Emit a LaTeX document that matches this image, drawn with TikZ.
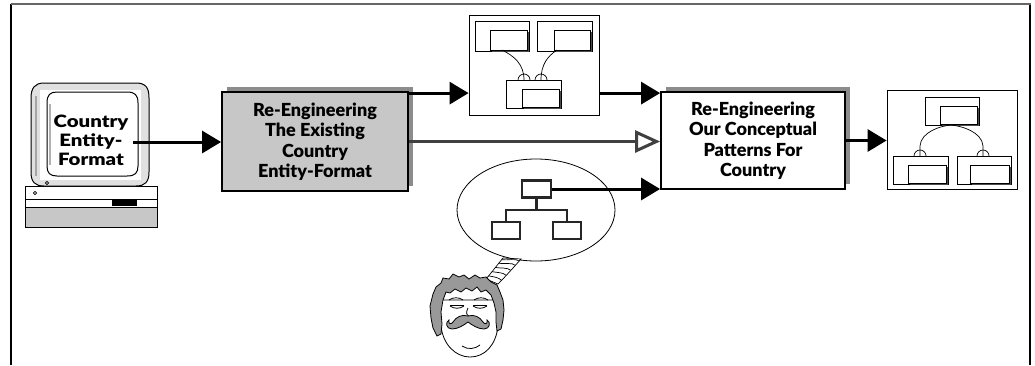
\documentclass[tikz,border=0pt]{standalone}
\usepackage{fontspec}
\setmainfont{Lato}[BoldFont={Lato Black}]
\usetikzlibrary{arrows.meta,calc,shapes.geometric}

\tikzset{
  procbox/.style={draw=black, line width=1.8pt, align=center, inner sep=0pt,
    font=\bfseries\fontsize{18}{20.5}\selectfont},
  schema/.style={draw=black, line width=0.8pt, fill=white, inner sep=0pt},
  entouter/.style={draw=black, line width=0.8pt, fill=white, inner sep=0pt},
  entinner/.style={draw=black, line width=0.8pt, fill=white, inner sep=0pt},
  treebox/.style={draw=black!85, line width=2.2pt, fill=white, inner sep=0pt,
    minimum width=28pt, minimum height=17pt},
  arr/.style={line width=3pt, -{Triangle[length=19pt, width=22pt]}},
  openarr/.style={draw=black!75, line width=3pt,
    -{Triangle[open, length=25pt, width=22pt, line width=3pt]}},
  link/.style={line width=0.7pt},
}

% entity: outer box with a raised inner box in its lower right
\newcommand\entity[6]{% name, x1, y1, x2, y2 (outer), inner width
  \node[entouter, minimum width=#4-#2, minimum height=#5-#3] (#1) at ({(#2+#4)/2},{(#3+#5)/2}) {};
  \fill[black!70] ({#4-2-#6+2},{#3+9+2}) rectangle ({#4-2+2},{#5-1+1.5});
  \node[entinner, minimum width=#6, minimum height=#5-#3-10] (#1i) at ({#4-2-#6/2},{(#3+9+#5-1)/2}) {};
}

\begin{document}
\begin{tikzpicture}[x=1pt, y=-1pt]
\useasboundingbox (0,0) rectangle (1035,365);
\fill[white] (0,0) rectangle (1035,365);

% open frame
\draw[black, line width=1.5pt] (11,365) -- (11,4);
\draw[black, line width=1.5pt] (1030,4) -- (1030,365);
\draw[black!60, line width=2pt] (10.5,4) -- (1030.5,4);

% ---------- computer ----------
% base
\draw[line width=0.9pt, fill=black!22] (25,186) rectangle (157,227);
\draw[line width=0.9pt, fill=white] (25,186) rectangle (157,199);
\draw[line width=0.9pt, fill=white] (25,199) rectangle (157,207);
\fill[black] (112,200) rectangle (137,206);
\draw[line width=0.6pt] (35,193) circle (1.6);
% bezel
\draw[line width=1pt, fill=black!12]
  (44,83) -- (136,83) .. controls (146,83) and (149,88) .. (149,98)
  -- (149,172) .. controls (149,182) and (145,186) .. (136,186)
  -- (44,186) .. controls (35,186) and (31,182) .. (31,172)
  -- (31,98) .. controls (31,88) and (35,83) .. (44,83) -- cycle;
\fill[white] (40,90) rectangle (141,180);
\draw[black!35, line width=1.5pt] (36,96) -- (36,176);
% screen
\draw[line width=1pt, fill=white]
  (57,92) -- (127,92) .. controls (135,92) and (138,95) .. (138,103)
  -- (138,166) .. controls (138,173) and (135,176) .. (127,176)
  -- (57,176) .. controls (50,176) and (47,173) .. (47,166)
  -- (47,103) .. controls (47,95) and (50,92) .. (57,92) -- cycle;
\draw[black!30, line width=1.2pt] (50,104) -- (50,165);
\draw[line width=0.6pt] (47,183) circle (1.6);
\node[align=center, inner sep=0pt, xscale=1.2,
  font=\bfseries\fontsize{17}{19}\selectfont] (screentext) at (91,140)
  {Country\\Entity-\\Format};
\coordinate (screenout) at (133,142);

% ---------- process boxes ----------
\fill[black!45] (227,87) rectangle (413,186);
\node[procbox, fill=black!22, minimum width=186pt, minimum height=99pt]
  (reexist) at (315,141.5) {Re-Engineering\\The Existing\\Country\\Entity-Format};

\fill[black!45] (666,87) rectangle (850,184);
\node[procbox, fill=white, minimum width=184pt, minimum height=97pt]
  (reconc) at (753,140.5) {Re-Engineering\\Our Conceptual\\Patterns For\\Country};

% ---------- existing schema ----------
\node[schema, minimum width=130pt, minimum height=100pt] (schemaA) at (534,65) {};
\entity{ea}{475}{21}{529}{51}{37}
\entity{eb}{537}{21}{592}{51}{36}
\entity{ec}{506}{80}{561}{108}{37}
\draw[link] (502,50) .. controls (514,56) and (524,64) .. (524,80);
\draw[link] (557,50) .. controls (548,56) and (541,64) .. (541,80);
\draw[link] (518,80) arc[start angle=180, end angle=360, radius=6];
\draw[link] (535,80) arc[start angle=180, end angle=360, radius=6];

% ---------- conceptual pattern schema ----------
\node[schema, minimum width=130pt, minimum height=99pt] (schemaB) at (952,139.5) {};
\entity{pa}{925}{97}{979}{125}{37}
\entity{pb}{893}{156}{948}{184}{38}
\entity{pc}{957}{156}{1011}{184}{39}
\draw[link] (920,156) -- (920,146) .. controls (921,132) and (940,126) .. (951,125)
  .. controls (962,126) and (982,132) .. (983,146) -- (983,156);
\draw[link] (914,156) arc[start angle=180, end angle=360, radius=6];
\draw[link] (977,156) arc[start angle=180, end angle=360, radius=6];

% ---------- thought bubble ----------
\node[draw, line width=0.8pt, ellipse, minimum width=158pt, minimum height=102pt,
  inner sep=0pt] (bubble) at (536,210) {};
\node[treebox, minimum width=29pt] (root) at (536.5,189) {};
\node[treebox] (leafl) at (506,230.5) {};
\node[treebox] (leafr) at (567,230.5) {};
\draw[black!85, line width=2.2pt] (root.south) -- ++(0,11) coordinate (fork);
\draw[black!85, line width=2.2pt] (leafl.north) |- (fork) -| (leafr.north);

% bubble tail
\draw[line width=0.7pt, fill=white]
  (486,279) .. controls (492,272) and (498,264) .. (503,258)
  -- (521,259) .. controls (513,268) and (505,277) .. (498,284) -- cycle;
\foreach \t in {0.15,0.35,0.55,0.75,0.92}{
  \draw[line width=0.7pt] ($(486,279)!\t!(503,258)$) .. controls +(5,1) and +(-3,-3) ..
    ($(498,284)!\t!(521,259)$);
}

% ---------- thinker ----------
\draw[line width=0.8pt, fill=white]
  (440,300) -- (441,326) .. controls (443,345) and (456,357) .. (470,357)
  .. controls (485,357) and (496,345) .. (498,326) -- (497,300) -- cycle;
\draw[line width=0.8pt, fill=black!40]
  (437,336) -- (433,328) -- (431,318) -- (430,306) -- (433,294) -- (436,287)
  -- (441,283) -- (443,278) -- (449,279) -- (453,274) -- (459,277) -- (464,275)
  -- (469,279) -- (475,275) -- (480,278) -- (486,277) -- (491,282) -- (497,285)
  -- (500,292) -- (503,300) -- (504,310) -- (503,320) -- (501,329) -- (497,331)
  -- (496,322) -- (496,312) -- (494,303) -- (491,295) -- (486,290) -- (481,292)
  -- (477,287) -- (472,291) -- (466,288) -- (461,292) -- (455,289) -- (450,293)
  -- (446,292) -- (443,300) -- (441,312) -- (442,324) -- (441,334) -- cycle;
% eyebrows and closed eyes
\draw[line width=0.8pt] (449,300) .. controls (453,297) and (459,297) .. (463,300);
\draw[line width=0.8pt] (474,300) .. controls (478,297) and (484,297) .. (488,300);
\draw[line width=0.8pt] (450,306) .. controls (454,309) and (460,309) .. (464,306);
\draw[line width=0.8pt] (450,305) -- (464,305);
\draw[line width=0.8pt] (473,306) .. controls (477,309) and (483,309) .. (487,306);
\draw[line width=0.8pt] (473,305) -- (487,305);
% nose
\draw[line width=0.8pt] (468,308) .. controls (466,312) and (466,315) .. (469,316);
% moustache
\draw[line width=0.8pt, fill=black!40]
  (468,316) .. controls (462,314) and (456,317) .. (453,322)
  .. controls (451,325) and (448,324) .. (449,320)
  .. controls (445,322) and (446,329) .. (452,329)
  .. controls (458,329) and (464,325) .. (468,322)
  .. controls (472,325) and (478,329) .. (484,329)
  .. controls (490,329) and (491,322) .. (487,320)
  .. controls (488,324) and (485,325) .. (483,322)
  .. controls (480,317) and (474,314) .. (468,316) -- cycle;
% smile
\draw[line width=0.8pt] (462,346) .. controls (468,350) and (475,349) .. (480,345);

% ---------- connectors ----------
\draw[arr] (screenout) -- (screenout -| reexist.west);
\coordinate (topline) at ($(reexist.north east)+(0,2)$);
\draw[arr] (topline) -- (topline -| schemaA.west);
\draw[arr] (topline -| schemaA.east) -- (topline -| reconc.west);
\draw[openarr] (reexist.east) -- (reexist.east -| reconc.west);
\draw[arr] (root.east) -- (root.east -| reconc.west);
\draw[arr] (reconc.east) -- (reconc.east -| schemaB.west);
\end{tikzpicture}
\end{document}
